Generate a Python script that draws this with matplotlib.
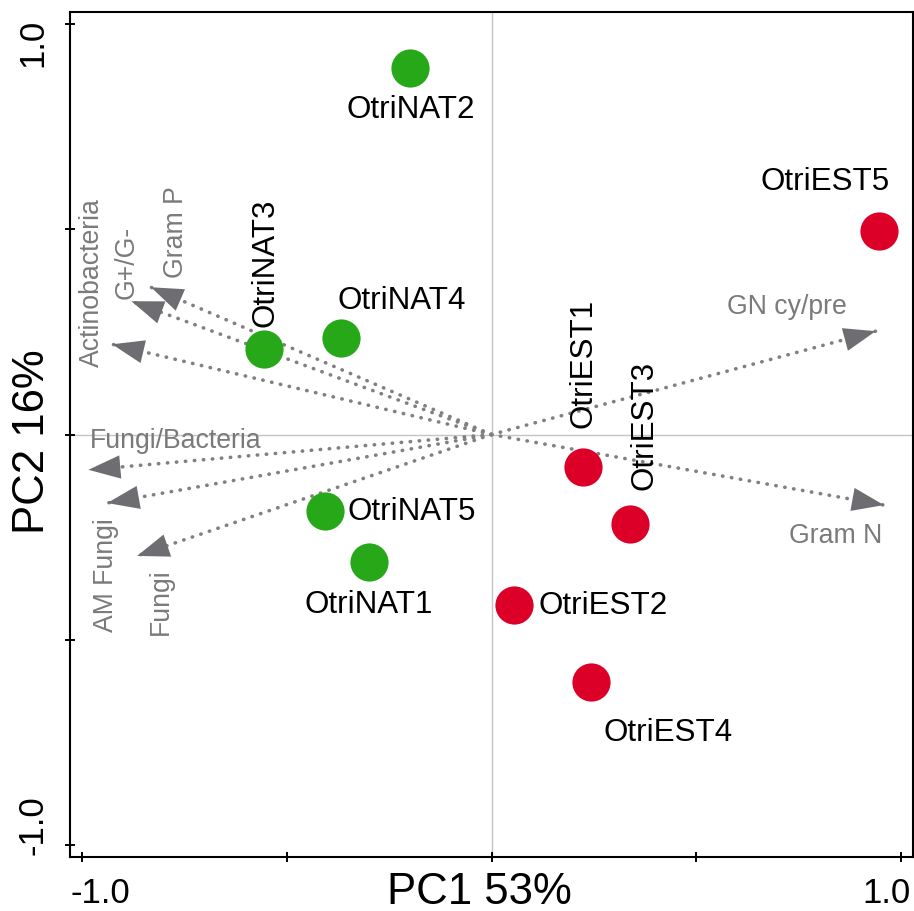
"""
PCA biplot of soil microbial groups (PLFA) for native and established Otri plots.
"""

# Imports
import matplotlib
matplotlib.use("Agg")
import matplotlib.pyplot as plt
import matplotlib.transforms as mtransforms

# Configurations
plt.rcParams['font.family'] = ['Liberation Sans', 'DejaVu Sans']

# Sample scores
SAMPLES = ["OtriNAT1", "OtriNAT2", "OtriNAT3", "OtriNAT4", "OtriNAT5",
           "OtriEST1", "OtriEST2", "OtriEST3", "OtriEST4", "OtriEST5"]
PC1 = [-0.300, -0.198, -0.556, -0.368, -0.407, 0.224, 0.056, 0.339, 0.244, 0.946]
PC2 = [-0.311, 0.893, 0.208, 0.235, -0.186, -0.079, -0.415, -0.219, -0.603, 0.496]
GROUP = ["NAT", "NAT", "NAT", "NAT", "NAT", "EST", "EST", "EST", "EST", "EST"]

# Variable loadings (arrow tips)
VARIABLES = ["GN cy/pre", "Gram N", "Gram P", "G+/G-", "Actinobacteria",
             "Fungi/Bacteria", "AM Fungi", "Fungi"]
LOAD1 = [0.939, 0.959, -0.832, -0.880, -0.927, -0.985, -0.939, -0.866]
LOAD2 = [0.252, -0.172, 0.359, 0.325, 0.220, -0.086, -0.167, -0.296]

TICKS = [-1.0, -0.5, 0.0, 0.5, 1.0]
TICK_LABELS = ["-1.0", "", "", "", "1.0"]

COLORS = {"NAT": "#27a819", "EST": "#dc0028"}

# Label placement: offset in pixels (x, y) and rotation
SAMPLE_LABEL_POS = {"OtriNAT1": (0, -42, 0), "OtriNAT2": (0, -41, 0), "OtriNAT3": (2, 23, 90),
                    "OtriNAT4": (-3, 38, 0), "OtriNAT5": (23, 0, 0), "OtriEST1": (0, 40, 90),
                    "OtriEST2": (24, 0, 0), "OtriEST3": (14, 35, 90), "OtriEST4": (77, -50, 0),
                    "OtriEST5": (-53, 50, 0)}
VAR_LABEL_POS = {"GN cy/pre": (-89, 25, 0), "Gram N": (-48, -30, 0), "Gram P": (25, 56, 90),
                 "G+/G-": (-5, 40, 90), "Actinobacteria": (-20, 63, 90),
                 "Fungi/Bacteria": (87, 30, 0), "AM Fungi": (-1, -71, 90), "Fungi": (24, -45, 90)}

# Figure
fig = plt.figure(figsize=(9.14, 9.12), dpi=100)
ax = fig.add_axes([0.0766, 0.0592, 0.9223, 0.9265])
ax.set_xlim(-1.03, 1.03)
ax.set_ylim(-1.03, 1.03)

# Origin lines
ax.axhline(0, color="#c4c4c4", lw=1, zorder=0)
ax.axvline(0, color="#c4c4c4", lw=1, zorder=0)

# Arrows for variables
for name, x, y in zip(VARIABLES, LOAD1, LOAD2):
    ax.plot([0, x], [0, y], color="#808080", lw=2.6, linestyle=(0, (0.1, 2.4)),
            dash_capstyle="round", zorder=1)
    ax.annotate("", xy=(x, y), xytext=(0.9 * x, 0.9 * y),
                arrowprops=dict(arrowstyle="-|>,head_length=1.15,head_width=0.42",
                                mutation_scale=20, color="#6d6d72", lw=0,
                                shrinkA=0, shrinkB=0),
                zorder=2)
    dx, dy, rot = VAR_LABEL_POS[name]
    ax.annotate(name, xy=(x, y), xytext=(dx, dy), textcoords="offset pixels",
                ha="center", va="center", rotation=rot, fontsize=19.2,
                color="#7a7a7a", zorder=3)

# Sample points
for name, x, y, grp in zip(SAMPLES, PC1, PC2, GROUP):
    ax.plot(x, y, "o", color=COLORS[grp], markersize=27.5, markeredgewidth=0, zorder=4)
    dx, dy, rot = SAMPLE_LABEL_POS[name]
    if rot == 90:
        ha, va = "center", "bottom"
    elif (dx > 10 and dy == 0) or name == "OtriNAT4":
        ha, va = "left", "center"
    else:
        ha, va = "center", "center"
    ax.annotate(name, xy=(x, y), xytext=(dx, dy), textcoords="offset pixels",
                ha=ha, va=va, rotation=rot, fontsize=22.6, color="black", zorder=5)

# Axes styling
ax.set_xticks(TICKS)
ax.set_xticklabels(TICK_LABELS, fontsize=25)
ax.set_yticks(TICKS)
ax.set_yticklabels(TICK_LABELS, fontsize=25, rotation=90)
ax.tick_params(direction="inout", length=7, width=1.4, color="black")
ax.tick_params(axis="x", pad=10)
ax.tick_params(axis="y", pad=11)
for spine in ax.spines.values():
    spine.set_linewidth(1.5)

# End tick labels are kept inside the frame
xlabs = ax.get_xticklabels()
xlabs[0].set_ha("left")
xlabs[0].set_transform(xlabs[0].get_transform() + mtransforms.ScaledTranslation(-0.12, 0, fig.dpi_scale_trans))
xlabs[-1].set_ha("right")
xlabs[-1].set_transform(xlabs[-1].get_transform() + mtransforms.ScaledTranslation(0.10, 0, fig.dpi_scale_trans))
ylabs = ax.get_yticklabels()
ylabs[0].set_va("bottom")
ylabs[0].set_transform(ylabs[0].get_transform() + mtransforms.ScaledTranslation(0, -0.09, fig.dpi_scale_trans))
ylabs[-1].set_va("top")
ylabs[-1].set_transform(ylabs[-1].get_transform() + mtransforms.ScaledTranslation(0, 0.07, fig.dpi_scale_trans))

ax.set_xlabel("PC1 53%", fontsize=31.5)
ax.xaxis.set_label_coords(0.486, -0.017)
ax.set_ylabel("PC2 16%", fontsize=31.5, va="center")
ax.yaxis.set_label_coords(-0.045, 0.493)

fig.savefig("out.png", dpi=100)
